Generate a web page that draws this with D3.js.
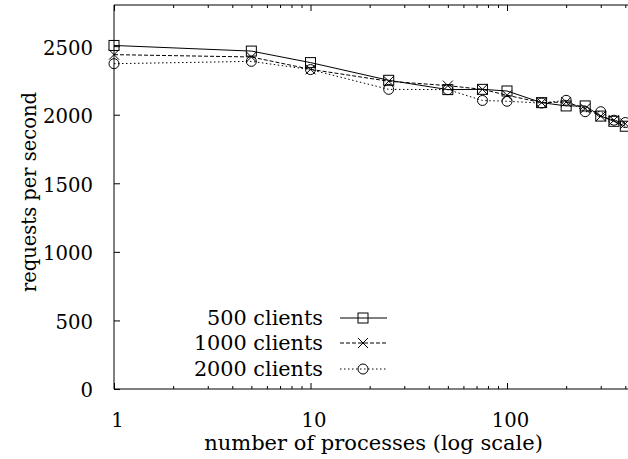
<!DOCTYPE html>
<html lang="en">
<head>
  <meta charset="UTF-8" />
  <title>Requests per second</title>
  <script src="https://d3js.org/d3.v7.min.js"></script>
  <style>
    body { margin: 0; background: white; }
    svg { display: block; }
    .axis path { display: none; }
    .axis line { stroke: black; stroke-width: 1; }
  </style>
</head>
<body>
  <div id="chart"></div>

  <script>
    // Data
    const processes = [1, 5, 10, 25, 50, 75, 100, 150, 200, 250, 300, 350, 400];
    const clients500  = [2505, 2464, 2380, 2251, 2183, 2185, 2173, 2088, 2064, 2064, 1990, 1952, 1916];
    const clients1000 = [2438, 2421, 2331, 2244, 2212, 2185, 2142, 2088, 2093, 2045, 1989, 1960, 1935];
    const clients2000 = [2372, 2389, 2329, 2185, 2183, 2104, 2098, 2085, 2105, 2022, 2022, 1960, 1943];
    const seriesNames = ["500 clients", "1000 clients", "2000 clients"];
    const xTickLabels = [1, 10, 100];
    const yTickLabels = [0, 500, 1000, 1500, 2000, 2500];

    const width = 628, height = 459;
    const plotLeft = 114, plotTop = 5, plotBottom = 389;
    const SERIF = "'DejaVu Serif', 'Liberation Serif', serif";

    const svg = d3.select("#chart").append("svg")
      .attr("width", width).attr("height", height)
      .style("font-family", SERIF);

    // pick a font size so a string comes out at a given width
    function fitSize(str, target) {
      const t = svg.append("text").style("font-size", "100px").text(str);
      const w = t.node().getComputedTextLength();
      t.remove();
      return 100 * target / w;
    }
    const tickSize = fitSize("2500", 50);
    const legendSize = fitSize("500 clients", 116);
    const xTitleSize = fitSize("number of processes (log scale)", 339);
    const yTitleSize = fitSize("requests per second", 200);

    const x = d3.scaleLog().domain([1, 500]).range([plotLeft, plotLeft + 196.5 * Math.log10(500)]);
    const y = d3.scaleLinear().domain([0, 2800]).range([plotBottom, plotTop]);

    const minorX = [];
    for (let d = 1; d <= 100; d *= 10)
      for (let k = 2; k <= 9; k++) if (d * k <= 500) minorX.push(d * k);

    // Frame
    svg.append("line").attr("x1", plotLeft).attr("x2", width).attr("y1", plotTop).attr("y2", plotTop).attr("stroke", "black");
    svg.append("line").attr("x1", plotLeft).attr("x2", width).attr("y1", plotBottom).attr("y2", plotBottom).attr("stroke", "black");
    svg.append("line").attr("x1", plotLeft).attr("x2", plotLeft).attr("y1", plotTop).attr("y2", plotBottom).attr("stroke", "black");

    // Bottom axis
    const xAxisG = svg.append("g").attr("class", "axis").attr("transform", `translate(0,${plotBottom})`)
      .call(d3.axisBottom(x).tickValues(xTickLabels).tickSize(-6).tickFormat(d3.format("d")));
    xAxisG.selectAll("text")
      .attr("y", 427 - plotBottom).attr("dy", 0).attr("dx", 3)
      .style("font-family", SERIF).style("font-size", tickSize + "px");
    svg.append("g").attr("class", "axis").attr("transform", `translate(0,${plotBottom})`)
      .call(d3.axisBottom(x).tickValues(minorX).tickSize(-3).tickFormat(""));
    // Top mirrored ticks
    svg.append("g").attr("class", "axis").attr("transform", `translate(0,${plotTop})`)
      .call(d3.axisTop(x).tickValues(xTickLabels).tickSize(-6).tickFormat(""));
    svg.append("g").attr("class", "axis").attr("transform", `translate(0,${plotTop})`)
      .call(d3.axisTop(x).tickValues(minorX).tickSize(-3).tickFormat(""));

    // Left axis
    const yAxisG = svg.append("g").attr("class", "axis").attr("transform", `translate(${plotLeft},0)`)
      .call(d3.axisLeft(y).tickValues(yTickLabels).tickSize(-6).tickFormat(d3.format("d")));
    yAxisG.selectAll("text")
      .attr("x", 93 - plotLeft).attr("dy", "0.4em")
      .style("font-family", SERIF).style("font-size", tickSize + "px");

    // Axis titles
    svg.append("text")
      .attr("x", 373.5).attr("y", 450)
      .attr("text-anchor", "middle")
      .style("font-size", xTitleSize + "px")
      .text("number of processes (log scale)");
    svg.append("text")
      .attr("transform", "translate(36,192) rotate(-90)")
      .attr("text-anchor", "middle")
      .style("font-size", yTitleSize + "px")
      .text("requests per second");

    // Series
    const allSeries = [
      { name: seriesNames[0], values: clients500,  dash: null,  marker: "square" },
      { name: seriesNames[1], values: clients1000, dash: "4,2", marker: "cross" },
      { name: seriesNames[2], values: clients2000, dash: "1.5,2.5", marker: "circle" }
    ];

    const line = d3.line().x(d => x(d.x)).y(d => y(d.y));

    function drawMarker(g, type, cx, cy) {
      if (type === "square") {
        g.append("rect").attr("x", cx - 5).attr("y", cy - 5).attr("width", 10).attr("height", 10)
          .attr("fill", "none").attr("stroke", "black");
      } else if (type === "cross") {
        g.append("path").attr("d", `M${cx - 5},${cy - 5}L${cx + 5},${cy + 5}M${cx - 5},${cy + 5}L${cx + 5},${cy - 5}`)
          .attr("fill", "none").attr("stroke", "black");
      } else {
        g.append("circle").attr("cx", cx).attr("cy", cy).attr("r", 5)
          .attr("fill", "none").attr("stroke", "black");
      }
    }

    allSeries.forEach(s => {
      const pts = processes.map((p, i) => ({ x: p, y: s.values[i] }));
      svg.append("path").datum(pts)
        .attr("d", line)
        .attr("fill", "none")
        .attr("stroke", "black")
        .attr("stroke-width", 1)
        .attr("stroke-dasharray", s.dash);
      const g = svg.append("g");
      pts.forEach(p => drawMarker(g, s.marker, x(p.x), y(p.y)));
    });

    // Legend
    const legendRows = [318, 343, 369];
    allSeries.forEach((s, i) => {
      const cy = legendRows[i];
      svg.append("text")
        .attr("x", 323).attr("y", cy + 7)
        .attr("text-anchor", "end")
        .style("font-size", legendSize + "px")
        .text(s.name);
      svg.append("line")
        .attr("x1", 340).attr("x2", 387).attr("y1", cy).attr("y2", cy)
        .attr("stroke", "black")
        .attr("stroke-dasharray", s.dash);
      drawMarker(svg.append("g"), s.marker, 363, cy);
    });
  </script>
</body>
</html>
